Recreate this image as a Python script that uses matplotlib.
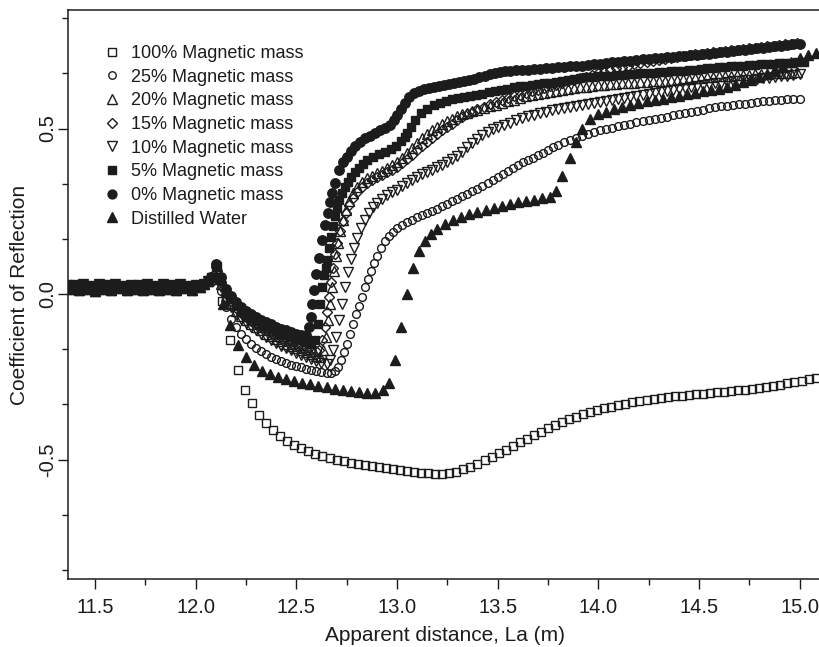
import numpy as np
import matplotlib
matplotlib.use('Agg')
import matplotlib.pyplot as plt
from matplotlib.ticker import MultipleLocator, FormatStrFormatter
from matplotlib.lines import Line2D

plt.rcParams['font.family'] = ['Liberation Sans', 'DejaVu Sans']
plt.rcParams['axes.unicode_minus'] = False

# ---------------- data ----------------
# shared flat part (all samples overlap before the step)
base_x = [11.36, 11.38, 11.40, 11.42, 11.44, 11.46, 11.48, 11.50, 11.52, 11.54,
          11.56, 11.58, 11.60, 11.62, 11.64, 11.66, 11.68, 11.70, 11.72, 11.74,
          11.76, 11.78, 11.80, 11.82, 11.84, 11.86, 11.88, 11.90, 11.92, 11.94,
          11.96, 11.98, 12.00, 12.02, 12.04, 12.06]
base_y = [0.028, 0.014, 0.026, 0.012, 0.030, 0.016, 0.024, 0.010, 0.029, 0.015,
          0.027, 0.013, 0.031, 0.017, 0.025, 0.011, 0.028, 0.014, 0.026, 0.012,
          0.030, 0.016, 0.024, 0.012, 0.029, 0.015, 0.027, 0.013, 0.030, 0.017,
          0.025, 0.012, 0.028, 0.020, 0.030, 0.040]

x_100 = [12.08, 12.105, 12.13, 12.17, 12.21,
         12.245, 12.28, 12.315, 12.35, 12.385, 12.42, 12.455, 12.49, 12.525, 12.56,
         12.595, 12.63, 12.665, 12.70, 12.735, 12.77, 12.805, 12.84, 12.875, 12.91,
         12.945, 12.98, 13.015, 13.05, 13.085, 13.12, 13.155, 13.19, 13.225, 13.26,
         13.295, 13.33, 13.365, 13.40, 13.435, 13.47, 13.505, 13.54, 13.575, 13.61,
         13.645, 13.68, 13.715, 13.75, 13.785, 13.82, 13.855, 13.89, 13.925, 13.96,
         13.995, 14.03, 14.065, 14.10, 14.135, 14.17, 14.205, 14.24, 14.275, 14.31,
         14.345, 14.38, 14.415, 14.45, 14.485, 14.52, 14.555, 14.59, 14.625, 14.66,
         14.695, 14.73, 14.765, 14.80, 14.835, 14.87, 14.905, 14.94, 14.975, 15.01,
         15.045, 15.08]
y_100 = [0.05, 0.085, -0.02, -0.14, -0.23,
         -0.29, -0.33, -0.365, -0.39, -0.41, -0.428, -0.443, -0.456, -0.466, -0.475,
         -0.483, -0.49, -0.496, -0.501, -0.506, -0.51, -0.514, -0.518, -0.521, -0.524,
         -0.527, -0.53, -0.533, -0.535, -0.538, -0.54, -0.542, -0.543, -0.543, -0.541,
         -0.537, -0.53, -0.522, -0.513, -0.503, -0.492, -0.481, -0.47, -0.459, -0.448,
         -0.437, -0.426, -0.416, -0.406, -0.396, -0.387, -0.379, -0.371, -0.364, -0.357,
         -0.351, -0.345, -0.34, -0.335, -0.331, -0.327, -0.323, -0.32, -0.317, -0.314,
         -0.311, -0.309, -0.307, -0.305, -0.303, -0.301, -0.299, -0.297, -0.295, -0.293,
         -0.291, -0.289, -0.286, -0.283, -0.28, -0.277, -0.274, -0.27, -0.266, -0.262,
         -0.258, -0.254]

x_25 = [12.075, 12.10, 12.125, 12.15, 12.175, 12.20, 12.225, 12.25, 12.275, 12.30,
        12.325, 12.35, 12.375, 12.40, 12.425, 12.45, 12.475, 12.50, 12.525, 12.55,
        12.575, 12.60, 12.625, 12.65,
        12.67, 12.69, 12.705, 12.72, 12.735, 12.75, 12.765, 12.78, 12.795, 12.81,
        12.825, 12.84, 12.855, 12.87, 12.885, 12.90, 12.92, 12.94, 12.96, 12.98,
        13.00, 13.025, 13.05, 13.075, 13.10, 13.125, 13.15, 13.175, 13.20, 13.225,
        13.25, 13.275, 13.30, 13.325, 13.35, 13.375, 13.40, 13.425, 13.45, 13.475,
        13.50, 13.525, 13.55, 13.575, 13.60, 13.625, 13.65, 13.675, 13.70, 13.725,
        13.75, 13.775, 13.80,
        13.83, 13.86, 13.89, 13.92, 13.95, 13.98, 14.01, 14.04, 14.07, 14.10,
        14.13, 14.16, 14.19, 14.22, 14.25, 14.28, 14.31, 14.34, 14.37, 14.40,
        14.43, 14.46, 14.49, 14.52, 14.55, 14.58, 14.61, 14.64, 14.67, 14.70,
        14.73, 14.76, 14.79, 14.82, 14.85, 14.88, 14.91, 14.94, 14.97, 15.00]
y_25 = [0.035, 0.07, 0.01, -0.04, -0.075, -0.1, -0.12, -0.135, -0.15, -0.162,
        -0.173, -0.182, -0.19, -0.197, -0.203, -0.208, -0.213, -0.218, -0.222, -0.226,
        -0.23, -0.234, -0.237, -0.24,
        -0.24, -0.232, -0.22, -0.2, -0.175, -0.15, -0.12, -0.09, -0.06, -0.035,
        -0.01, 0.02, 0.045, 0.07, 0.095, 0.115, 0.14, 0.16, 0.175, 0.188,
        0.198, 0.208, 0.217, 0.225, 0.232, 0.238, 0.245, 0.252, 0.258, 0.265,
        0.273, 0.28, 0.288, 0.296, 0.303, 0.31, 0.317, 0.325, 0.334, 0.343,
        0.352, 0.362, 0.372, 0.382, 0.39, 0.398, 0.405, 0.412, 0.419, 0.427,
        0.435, 0.443, 0.451,
        0.459, 0.466, 0.472, 0.478, 0.484, 0.489, 0.494, 0.499, 0.503, 0.507,
        0.511, 0.515, 0.519, 0.522, 0.526, 0.529, 0.533, 0.536, 0.54, 0.543,
        0.547, 0.55, 0.554, 0.557, 0.561, 0.565, 0.567, 0.569, 0.571, 0.573,
        0.575, 0.578, 0.58, 0.582, 0.584, 0.585, 0.586, 0.588, 0.589, 0.59]

x_20 = [12.075, 12.10, 12.125, 12.15, 12.175, 12.20, 12.225, 12.25, 12.275, 12.30,
        12.325, 12.35, 12.375, 12.40, 12.425, 12.45, 12.475, 12.50, 12.525, 12.55,
        12.575, 12.60,
        12.62, 12.635, 12.645, 12.655, 12.665, 12.675, 12.685, 12.695, 12.705, 12.715,
        12.73, 12.745, 12.76, 12.78,
        12.80, 12.825, 12.85, 12.875, 12.90, 12.925, 12.95, 12.975, 13.00, 13.025,
        13.05, 13.075, 13.10, 13.125, 13.15, 13.175, 13.20, 13.225, 13.25, 13.275,
        13.30, 13.325, 13.35, 13.375, 13.40,
        13.43, 13.46, 13.49, 13.52, 13.55, 13.58, 13.61, 13.64, 13.67, 13.70,
        13.73, 13.76, 13.79, 13.82, 13.85, 13.88, 13.91, 13.94, 13.97, 14.00,
        14.03, 14.06, 14.09, 14.12, 14.15, 14.18, 14.21, 14.24, 14.27, 14.30,
        14.33, 14.36, 14.39, 14.42, 14.45, 14.48, 14.51, 14.54, 14.57, 14.60,
        14.63, 14.66, 14.69, 14.72, 14.75, 14.78, 14.81, 14.84, 14.87, 14.90,
        14.93, 14.96, 14.99]
y_20 = [0.045, 0.08, 0.03, -0.005, -0.03, -0.05, -0.065, -0.078, -0.09, -0.1,
        -0.11, -0.12, -0.128, -0.136, -0.143, -0.15, -0.157, -0.163, -0.17, -0.176,
        -0.182, -0.188,
        -0.19, -0.17, -0.13, -0.08, -0.03, 0.02, 0.07, 0.115, 0.155, 0.19,
        0.225, 0.255, 0.28, 0.305,
        0.322, 0.338, 0.35, 0.358, 0.365, 0.372, 0.38, 0.39, 0.40, 0.412,
        0.425, 0.44, 0.455, 0.47, 0.483, 0.495, 0.505, 0.514, 0.522, 0.53,
        0.537, 0.543, 0.548, 0.553, 0.557,
        0.562, 0.567, 0.572, 0.577, 0.582, 0.587, 0.592, 0.597, 0.601, 0.605,
        0.608, 0.611, 0.614, 0.617, 0.62, 0.622, 0.624, 0.626, 0.628, 0.63,
        0.632, 0.633, 0.634, 0.636, 0.637, 0.638, 0.64, 0.641, 0.642, 0.644,
        0.645, 0.647, 0.648, 0.65, 0.651, 0.653, 0.654, 0.655, 0.657, 0.658,
        0.659, 0.66, 0.661, 0.662, 0.663, 0.664, 0.665, 0.666, 0.667, 0.668,
        0.668, 0.669, 0.67]

x_15 = [12.075, 12.10, 12.125, 12.15, 12.175, 12.20, 12.225, 12.25, 12.275, 12.30,
        12.325, 12.35, 12.375, 12.40, 12.425, 12.45, 12.475, 12.50, 12.525, 12.55,
        12.575, 12.60,
        12.615, 12.63, 12.64, 12.65, 12.66, 12.67, 12.68, 12.69, 12.70, 12.715,
        12.73, 12.745, 12.76, 12.78,
        12.80, 12.825, 12.85, 12.875, 12.90, 12.925, 12.95, 12.975, 13.00, 13.025,
        13.05, 13.075, 13.10, 13.125, 13.15, 13.175, 13.20, 13.225, 13.25, 13.275,
        13.30, 13.325, 13.35, 13.375, 13.40,
        13.43, 13.46, 13.49, 13.52, 13.55, 13.58, 13.61, 13.64, 13.67, 13.70,
        13.73, 13.76, 13.79, 13.82, 13.85, 13.88, 13.91, 13.94, 13.97, 14.00,
        14.03, 14.06, 14.09, 14.12, 14.15, 14.18, 14.21, 14.24, 14.27, 14.30,
        14.33, 14.36, 14.39, 14.42, 14.45, 14.48, 14.51, 14.54, 14.57, 14.60,
        14.63, 14.66, 14.69, 14.72, 14.75, 14.78, 14.81, 14.84, 14.87, 14.90,
        14.93, 14.96, 14.99]
y_15 = [0.045, 0.082, 0.035, 0.0, -0.022, -0.042, -0.058, -0.07, -0.082, -0.092,
        -0.1, -0.108, -0.116, -0.123, -0.13, -0.137, -0.144, -0.15, -0.156, -0.162,
        -0.168, -0.172,
        -0.17, -0.14, -0.1, -0.055, -0.01, 0.035, 0.08, 0.12, 0.155, 0.19,
        0.22, 0.245, 0.268, 0.29,
        0.307, 0.322, 0.335, 0.345, 0.353, 0.36, 0.368, 0.376, 0.385, 0.396,
        0.408, 0.421, 0.434, 0.447, 0.46, 0.472, 0.483, 0.494, 0.505, 0.515,
        0.525, 0.534, 0.543, 0.551, 0.558,
        0.566, 0.573, 0.58, 0.586, 0.592, 0.597, 0.602, 0.607, 0.612, 0.617,
        0.622, 0.627, 0.632, 0.637, 0.642, 0.647, 0.652, 0.657, 0.662, 0.667,
        0.672, 0.677, 0.682, 0.686, 0.69, 0.694, 0.698, 0.702, 0.705, 0.708,
        0.711, 0.714, 0.717, 0.72, 0.722, 0.724, 0.726, 0.728, 0.73, 0.732,
        0.734, 0.736, 0.738, 0.74, 0.742, 0.744, 0.746, 0.748, 0.75, 0.752,
        0.754, 0.756, 0.758]

x_10 = [12.075, 12.10, 12.125, 12.15, 12.175, 12.20, 12.225, 12.25, 12.275, 12.30,
        12.325, 12.35, 12.375, 12.40, 12.425, 12.45, 12.475, 12.50, 12.525, 12.55,
        12.575, 12.60, 12.625, 12.65,
        12.665, 12.68, 12.695, 12.71, 12.725, 12.74, 12.755, 12.77, 12.785, 12.80,
        12.82, 12.84, 12.86, 12.88, 12.90,
        12.925, 12.95, 12.975, 13.00, 13.025, 13.05, 13.075, 13.10, 13.125, 13.15,
        13.175, 13.20, 13.225, 13.25, 13.275, 13.30, 13.325, 13.35, 13.375, 13.40,
        13.425, 13.45, 13.475, 13.50,
        13.53, 13.56, 13.59, 13.62, 13.65, 13.68, 13.71, 13.74, 13.77, 13.80,
        13.83, 13.86, 13.89, 13.92, 13.95, 13.98, 14.01, 14.04, 14.07, 14.10,
        14.13, 14.16, 14.19, 14.22, 14.25, 14.28, 14.31, 14.34, 14.37, 14.40,
        14.43, 14.46, 14.49, 14.52, 14.55, 14.58, 14.61, 14.64, 14.67, 14.70,
        14.73, 14.76, 14.79, 14.82, 14.85, 14.88, 14.91, 14.94, 14.97, 15.00]
y_10 = [0.04, 0.075, 0.02, -0.02, -0.04, -0.06, -0.075, -0.088, -0.1, -0.11,
        -0.12, -0.13, -0.14, -0.148, -0.156, -0.163, -0.17, -0.177, -0.183, -0.19,
        -0.196, -0.202, -0.207, -0.21,
        -0.2, -0.17, -0.13, -0.08, -0.03, 0.02, 0.065, 0.105, 0.14, 0.17,
        0.2, 0.225, 0.245, 0.262, 0.275,
        0.288, 0.298, 0.307, 0.315, 0.325, 0.335, 0.345, 0.354, 0.362, 0.369,
        0.376, 0.383, 0.39, 0.398, 0.407, 0.418, 0.43, 0.443, 0.456, 0.468,
        0.479, 0.489, 0.497, 0.504,
        0.511, 0.518, 0.525, 0.531, 0.537, 0.542, 0.547, 0.551, 0.555, 0.559,
        0.562, 0.565, 0.568, 0.571, 0.574, 0.577, 0.58, 0.583, 0.586, 0.589,
        0.592, 0.595, 0.598, 0.601, 0.604, 0.607, 0.61, 0.613, 0.616, 0.619,
        0.622, 0.625, 0.628, 0.631, 0.634, 0.636, 0.638, 0.64, 0.642, 0.644,
        0.646, 0.648, 0.65, 0.652, 0.654, 0.656, 0.658, 0.66, 0.662, 0.664]

x_5 = [12.075, 12.10, 12.125, 12.15, 12.175, 12.20, 12.225, 12.25, 12.275, 12.30,
       12.325, 12.35, 12.375, 12.40, 12.425, 12.45, 12.475, 12.50, 12.525, 12.55,
       12.575,
       12.595, 12.61, 12.62, 12.63, 12.637, 12.645, 12.654, 12.662, 12.67, 12.68,
       12.69, 12.70, 12.711, 12.725, 12.74, 12.755, 12.77, 12.79, 12.81, 12.83,
       12.853, 12.88, 12.91, 12.94, 12.97, 12.995, 13.02, 13.04, 13.052, 13.07,
       13.09, 13.118, 13.15, 13.184, 13.215, 13.245, 13.275, 13.305, 13.334, 13.365,
       13.395, 13.425, 13.455, 13.485, 13.515, 13.545, 13.58,
       13.61, 13.64, 13.67, 13.70, 13.73, 13.76, 13.79, 13.82, 13.85, 13.88,
       13.91, 13.94, 13.97, 14.00, 14.03, 14.06, 14.09, 14.12, 14.15, 14.18,
       14.21, 14.24, 14.27, 14.30, 14.33, 14.36, 14.39, 14.42, 14.45, 14.48,
       14.51, 14.54, 14.57, 14.60, 14.63, 14.66, 14.69, 14.72, 14.75, 14.78,
       14.81, 14.84, 14.87, 14.90, 14.93, 14.96, 14.99, 15.02]
y_5 = [0.05, 0.085, 0.04, 0.005, -0.015, -0.035, -0.05, -0.062, -0.072, -0.082,
       -0.09, -0.098, -0.105, -0.112, -0.118, -0.124, -0.13, -0.135, -0.14, -0.145,
       -0.15,
       -0.14, -0.09, -0.03, 0.02, 0.057, 0.08, 0.103, 0.14, 0.172, 0.205,
       0.235, 0.26, 0.284, 0.305, 0.322, 0.338, 0.353, 0.368, 0.38, 0.392,
       0.405, 0.415, 0.423, 0.43, 0.437, 0.447, 0.462, 0.475, 0.486, 0.505,
       0.525, 0.547, 0.56, 0.571, 0.578, 0.584, 0.588, 0.592, 0.595, 0.598,
       0.601, 0.605, 0.609, 0.613, 0.617, 0.62, 0.625,
       0.627, 0.629, 0.631, 0.633, 0.636, 0.638, 0.64, 0.643, 0.646, 0.649,
       0.653, 0.655, 0.656, 0.658, 0.659, 0.66, 0.661, 0.663, 0.664, 0.665,
       0.667, 0.668, 0.669, 0.67, 0.672, 0.673, 0.674, 0.675, 0.677, 0.678,
       0.68, 0.682, 0.683, 0.685, 0.686, 0.688, 0.689, 0.69, 0.692, 0.693,
       0.694, 0.695, 0.696, 0.697, 0.698, 0.699, 0.70, 0.70]

x_0 = [12.075, 12.10, 12.125, 12.15, 12.175, 12.20, 12.225, 12.25, 12.275, 12.30,
       12.325, 12.35, 12.375, 12.40, 12.425, 12.45, 12.475, 12.50, 12.525, 12.55,
       12.565, 12.575, 12.58, 12.59, 12.60, 12.615, 12.63, 12.64, 12.655, 12.665,
       12.675, 12.69, 12.71, 12.73, 12.75, 12.77, 12.79, 12.815, 12.84, 12.865,
       12.89, 12.915, 12.94, 12.965, 12.985,
       13.00, 13.02, 13.04, 13.06, 13.085, 13.11, 13.135, 13.16, 13.185, 13.21,
       13.235, 13.26, 13.285, 13.31, 13.335, 13.36, 13.385, 13.41, 13.435, 13.46,
       13.485, 13.51, 13.535,
       13.56, 13.59, 13.62, 13.65, 13.68, 13.71, 13.74, 13.77, 13.80, 13.83,
       13.86, 13.89, 13.92, 13.95, 13.98, 14.01, 14.04, 14.07, 14.10, 14.13,
       14.16, 14.19, 14.22, 14.25, 14.28, 14.31, 14.34, 14.37, 14.40, 14.43,
       14.46, 14.49, 14.52, 14.55, 14.58, 14.61, 14.64, 14.67, 14.70, 14.73,
       14.76, 14.79, 14.82, 14.85, 14.88, 14.91, 14.94, 14.97, 15.00]
y_0 = [0.05, 0.09, 0.05, 0.015, -0.005, -0.025, -0.04, -0.05, -0.06, -0.07,
       -0.078, -0.085, -0.092, -0.10, -0.105, -0.11, -0.115, -0.12, -0.125, -0.125,
       -0.10, -0.07, -0.03, 0.012, 0.06, 0.11, 0.163, 0.208, 0.245, 0.278,
       0.305, 0.335, 0.375, 0.398, 0.414, 0.432, 0.446, 0.458, 0.47, 0.478,
       0.486, 0.494, 0.502, 0.512, 0.525,
       0.54, 0.558, 0.578, 0.596, 0.607, 0.614, 0.618, 0.621, 0.624, 0.627,
       0.63, 0.633, 0.636, 0.639, 0.642, 0.646, 0.65, 0.655, 0.66, 0.664,
       0.668, 0.671, 0.673,
       0.675, 0.676, 0.677, 0.678, 0.68, 0.681, 0.682, 0.684, 0.685, 0.686,
       0.688, 0.689, 0.69, 0.692, 0.694, 0.696, 0.698, 0.70, 0.702, 0.704,
       0.705, 0.707, 0.709, 0.71, 0.712, 0.713, 0.715, 0.716, 0.718, 0.72,
       0.721, 0.723, 0.725, 0.726, 0.728, 0.73, 0.732, 0.734, 0.736, 0.738,
       0.74, 0.742, 0.744, 0.746, 0.748, 0.75, 0.752, 0.754, 0.755]

x_water = [12.08, 12.105, 12.135,
           12.17, 12.21, 12.25, 12.29, 12.33, 12.37, 12.41, 12.45, 12.49, 12.53,
           12.57, 12.61, 12.65, 12.69, 12.73, 12.77, 12.81, 12.85, 12.89,
           12.93, 12.96, 12.99, 13.02, 13.05, 13.08, 13.11, 13.14, 13.17, 13.20,
           13.24, 13.28, 13.32, 13.36, 13.40, 13.44, 13.48, 13.52, 13.56, 13.60,
           13.64, 13.68, 13.72, 13.76,
           13.79, 13.82, 13.86, 13.89, 13.92, 13.96,
           14.00, 14.04, 14.08, 14.12, 14.16, 14.20, 14.24, 14.28, 14.32, 14.36,
           14.40, 14.44, 14.48, 14.52, 14.56, 14.60, 14.64, 14.68, 14.72, 14.76,
           14.80, 14.84, 14.88, 14.92, 14.96, 15.00, 15.04, 15.08, 15.12]
y_water = [0.05, 0.085, -0.03,
           -0.094, -0.154, -0.19, -0.215, -0.232, -0.243, -0.25, -0.257, -0.263, -0.268,
           -0.273, -0.278, -0.282, -0.286, -0.29, -0.293, -0.296, -0.298, -0.298,
           -0.29, -0.27, -0.2, -0.1, 0.0, 0.08, 0.13, 0.16, 0.18, 0.197,
           0.212, 0.224, 0.234, 0.242, 0.249, 0.255, 0.261, 0.267, 0.272, 0.277,
           0.281, 0.285, 0.289, 0.294,
           0.31, 0.355, 0.41, 0.46, 0.5, 0.528,
           0.543, 0.551, 0.558, 0.564, 0.57, 0.576, 0.582, 0.586, 0.59, 0.594,
           0.598, 0.603, 0.608, 0.612, 0.616, 0.62, 0.626, 0.632, 0.639, 0.647,
           0.656, 0.665, 0.675, 0.687, 0.70, 0.712, 0.722, 0.728, 0.73]

labels = ['100% Magnetic mass', '25% Magnetic mass', '20% Magnetic mass',
          '15% Magnetic mass', '10% Magnetic mass', '5% Magnetic mass',
          '0% Magnetic mass', 'Distilled Water']
series_x = [x_100, x_25, x_20, x_15, x_10, x_5, x_0, x_water]
series_y = [y_100, y_25, y_20, y_15, y_10, y_5, y_0, y_water]
for sx, sy in zip(series_x, series_y):
    assert len(sx) == len(sy), (len(sx), len(sy))

xticks = [11.5, 12.0, 12.5, 13.0, 13.5, 14.0, 14.5, 15.0]
yticks = [-0.5, 0.0, 0.5]

# ---------------- style ----------------
K = '#1c1c1c'
styles = [
    dict(marker='s', mfc='none', ms=5.8),
    dict(marker='o', mfc='none', ms=5.6),
    dict(marker='^', mfc='none', ms=7.0),
    dict(marker='D', mfc='none', ms=5.0),
    dict(marker='v', mfc='none', ms=7.0),
    dict(marker='s', mfc=K, ms=6.0),
    dict(marker='o', mfc=K, ms=6.8),
    dict(marker='^', mfc=K, ms=7.2),
]
legend_ms = [5.8, 5.4, 7.0, 5.6, 7.0, 6.0, 6.4, 7.2]

fig = plt.figure(figsize=(8.2, 6.47), dpi=100)
ax = fig.add_axes([68 / 820, 1 - 579 / 647, 1 - 68 / 820 + 0.002, (579 - 10) / 647])

handles = []
for lab, sx, sy, st, lms in zip(labels, series_x, series_y, styles, legend_ms):
    xx = np.concatenate([base_x, sx])
    yy = np.concatenate([base_y, sy])
    ax.plot(xx, yy, ls='none', color=K, mec=K, mew=1.0, clip_on=True, **st)
    handles.append(Line2D([], [], ls='none', color=K, mec=K, mew=1.0,
                          marker=st['marker'], mfc=st['mfc'], ms=lms))

ax.set_xlim(11.3656, 15.11)
ax.set_ylim(-0.861, 0.858)
ax.set_xticks(xticks)
ax.set_yticks(yticks)
ax.xaxis.set_minor_locator(MultipleLocator(0.25))
ax.yaxis.set_minor_locator(MultipleLocator(1 / 6))
ax.xaxis.set_major_formatter(FormatStrFormatter('%.1f'))
ax.yaxis.set_major_formatter(FormatStrFormatter('%.1f'))

ax.tick_params(which='major', direction='out', length=7, width=1.0,
               labelsize=14.5, colors=K)
ax.tick_params(which='minor', direction='out', length=4, width=1.0, colors=K)
ax.tick_params(axis='x', which='major', pad=7)
ax.tick_params(axis='y', which='major', pad=1, labelrotation=90)
for t in ax.get_yticklabels():
    t.set_va('center')

for side in ['left', 'bottom', 'top']:
    ax.spines[side].set_linewidth(1.1)
    ax.spines[side].set_color(K)
ax.spines['right'].set_visible(False)

ax.set_xlabel('Apparent distance, La (m)', fontsize=15, color=K)
ax.set_ylabel('Coefficient of Reflection', fontsize=15, color=K)
ax.xaxis.set_label_coords(0.5, -(626 - 579) / 569)
ax.yaxis.set_label_coords(-(68 - 29) / 752, 0.5)

leg = ax.legend(handles, labels, loc='upper left',
                bbox_to_anchor=((103 - 68) / 752, (579 - 45) / 569),
                frameon=False, fontsize=13, borderpad=0, borderaxespad=0,
                handlelength=1.0, handletextpad=0.55, labelspacing=0.37,
                numpoints=1)
for t in leg.get_texts():
    t.set_color(K)

fig.savefig('out.png', dpi=100)
